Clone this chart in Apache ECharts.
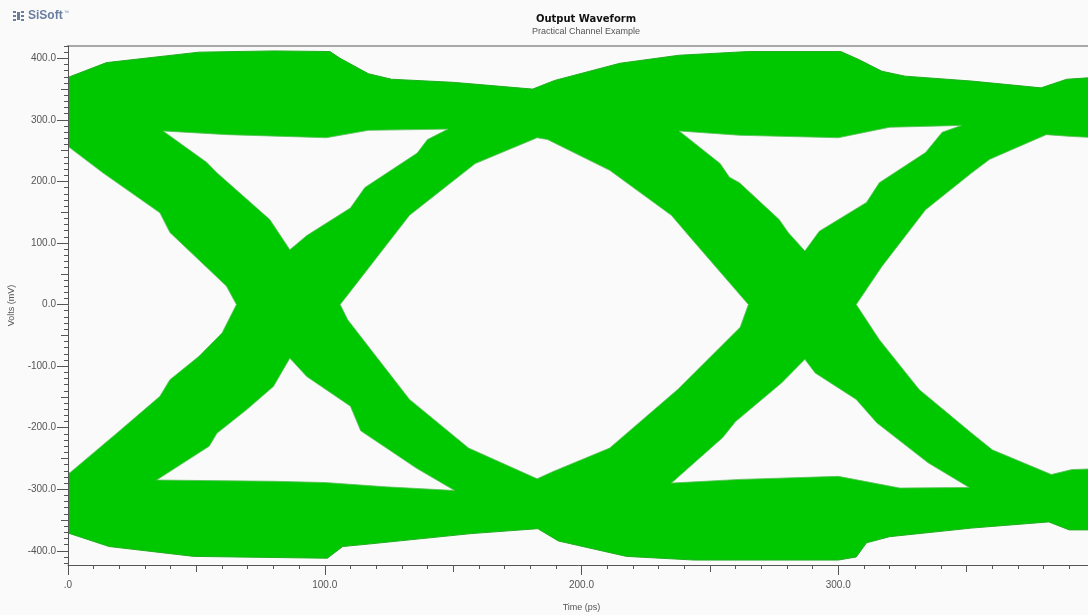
<!DOCTYPE html>
<html>
<head>
<meta charset="utf-8">
<title>Output Waveform</title>
<script src="https://cdn.jsdelivr.net/npm/echarts@6/dist/echarts.min.js"></script>
<style>
  html, body { margin: 0; padding: 0; background: #fafafa; }
  #main { width: 1088px; height: 615px; }
</style>
</head>
<body>
<div id="main"></div>
<script>
/*
 * =================数据 (ps, mV)===================*/
// outer envelope of all traces
const topEdge = [[0, 369], [15, 393], [51, 410], [80, 412], [102, 411], [106, 400], [117, 375], [126, 366], [150, 361], [181, 350], [189.5, 364], [215, 392], [238, 405], [265, 411], [301, 411], [308, 398], [317, 379], [326, 371], [352, 363], [379, 352], [389, 366], [400, 369]];
const bottomEdge = [[0, -371], [16, -393], [49, -409], [101, -412], [107, -393], [117, -389], [157, -372], [183, -364], [191, -384], [217.5, -409], [244, -415], [300, -415], [307, -410], [311, -387], [320, -377], [352, -363], [382, -353], [390, -366], [400, -366]];

// openings (no trace passes through them)
const eyeLeft = [[-5, 257], [0, 257], [13.6, 214], [35.8, 149], [39.7, 117], [61.7, 30], [65.6, 0], [60, -46], [51, -84], [39.7, -122], [35.8, -149], [19, -209], [0.8, -273], [-5, -275]];
const gapTop1 = [[37, 282], [62, 276], [100.6, 271], [117, 283], [148, 285], [140, 268], [136, 246], [115.6, 190], [110, 157], [93, 112], [86.4, 89], [78.6, 138], [58, 214], [54, 231]];
const gapBottom1 = [[86.4, -87], [93, -117], [110, -165], [114, -205], [135.8, -266], [150.6, -302], [123.7, -296], [100, -289], [80, -287], [34.5, -285], [55, -230], [58, -209], [69.5, -171], [80, -133]];
const eyeMid = [[182.7, 271], [186.8, 268], [211, 218], [235, 145], [243, 106], [265, 0], [261.8, -37], [237.7, -137], [211, -233], [189, -271], [182.7, -283], [156, -233], [133, -154], [109, -25], [106, 0], [109, 16], [133, 145], [158.6, 229]];
const gapTop2 = [[238, 282], [261.5, 275], [300, 271], [320, 288], [348, 291], [340.5, 280], [334, 247], [316, 198], [311, 166], [292.6, 119], [287, 87], [280.5, 117], [277, 138], [261.5, 198], [257.6, 207], [254, 229]];
const gapBottom2 = [[287, -89], [291, -111], [307, -154], [315, -192], [335, -257], [351, -297], [324, -298], [300, -279], [261.5, -284], [235, -290], [255, -216], [260, -190], [278, -127]];
const eyeRight = [[381, 276], [391, 273], [405, 270], [405, -266], [391, -268], [383, -276], [360, -236], [352, -209], [331.5, -138], [316, -57], [307, 0], [317, 62], [334, 154], [352, 214], [359, 236]];

// tick labels
const xLabels = [0, 100, 200, 300];
const yLabels = [-400, -300, -200, -100, 0, 100, 200, 300, 400];

/*
 * =================图表===================*/
{
  const bg = "#fafafa";
  const green = "#00c800";
  const axisColor = "#555";
  const font = "Liberation Sans";

  const envelope = [topEdge.concat(bottomEdge.slice().reverse())];
  const openings = [eyeLeft, gapTop1, gapBottom1, eyeMid, gapTop2, gapBottom2, eyeRight];

  // minor / medium ticks
  let xMid = [], xMinor = [], yMid = [], yMinor = [];
  for (let v = 0; v <= 400; v += 10) {
    if (v % 100 === 0) continue;
    (v % 50 === 0 ? xMid : xMinor).push(v);
  }
  for (let v = -420; v <= 420; v += 10) {
    if (v % 100 === 0) continue;
    (v % 50 === 0 ? yMid : yMinor).push(v);
  }

  const polygons = (shapes, style) => (params, api) => ({
    type: "polygon",
    shape: { points: shapes[params.dataIndex].map((p) => api.coord(p)) },
    style: style,
  });

  const tickAxis = (dir, values, len) => ({
    type: "value",
    min: dir === "x" ? 0 : -423,
    max: dir === "x" ? 400 : 420,
    position: dir === "x" ? "bottom" : "left",
    z: 10,
    axisLine: { show: false, onZero: false },
    axisTick: { show: true, length: len, customValues: values, lineStyle: { color: axisColor } },
    axisLabel: { show: false },
    splitLine: { show: false },
  });

  const dom = document.getElementById("main");
  const myChart = echarts.init(dom);
  const option = {
    backgroundColor: bg,
    animation: false,
    title: {
      text: "Output Waveform",
      subtext: "Practical Channel Example",
      left: 581,
      top: 9,
      textAlign: "center",
      itemGap: 3,
      textStyle: { fontSize: 10, fontWeight: "bold", color: "#111", fontFamily: "DejaVu Sans" },
      subtextStyle: { fontSize: 9, color: "#555", fontFamily: font },
    },
    graphic: [
      {
        type: "group",
        left: 13,
        top: 10,
        children: [
          { type: "rect", shape: { x: 0, y: 0, width: 3, height: 2 }, style: { fill: "#6a7ea2" } },
          { type: "rect", shape: { x: 0, y: 4, width: 3, height: 2 }, style: { fill: "#6a7ea2" } },
          { type: "rect", shape: { x: 0, y: 8, width: 3, height: 2 }, style: { fill: "#6a7ea2" } },
          { type: "rect", shape: { x: 4, y: 1, width: 3, height: 8 }, style: { fill: "#6a7ea2" } },
          { type: "rect", shape: { x: 8, y: 0, width: 3, height: 2 }, style: { fill: "#6a7ea2" } },
          { type: "rect", shape: { x: 8, y: 4, width: 3, height: 2 }, style: { fill: "#6a7ea2" } },
          { type: "rect", shape: { x: 8, y: 8, width: 3, height: 2 }, style: { fill: "#6a7ea2" } },
          {
            type: "text",
            x: 15,
            y: -1,
            style: { text: "SiSoft", font: "bold 12px 'Liberation Sans'", fill: "#6a7ea2" },
          },
          {
            type: "text",
            x: 51,
            y: -1,
            style: { text: "™", font: "5px 'Liberation Sans'", fill: "#6a7ea2" },
          },
        ],
      },
    ],
    grid: { left: 68, right: -7, top: 46, bottom: 50, outerBoundsMode: "none" },
    xAxis: [
      {
        type: "value",
        min: 0,
        max: 400,
        position: "bottom",
        z: 10,
        name: "Time (ps)",
        nameLocation: "middle",
        nameGap: 38,
        nameTextStyle: { fontSize: 9, color: "#555", fontFamily: font },
        axisLine: { show: true, onZero: false, lineStyle: { color: axisColor, width: 1 } },
        axisTick: { show: true, length: 10, customValues: xLabels, lineStyle: { color: axisColor } },
        axisLabel: {
          customValues: xLabels,
          margin: 15,
          fontSize: 10,
          color: "#555",
          fontFamily: font,
          formatter: (v) => (v === 0 ? ".0" : v.toFixed(1)),
        },
        splitLine: { show: false },
      },
      tickAxis("x", xMid, 7),
      tickAxis("x", xMinor, 4),
      {
        type: "value",
        min: 0,
        max: 400,
        position: "top",
        axisLine: { show: true, onZero: false, lineStyle: { color: "#a8a8a8", width: 2 } },
        axisTick: { show: false },
        axisLabel: { show: false },
        splitLine: { show: false },
      },
    ],
    yAxis: [
      {
        type: "value",
        min: -423,
        max: 420,
        position: "left",
        z: 10,
        name: "Volts (mV)",
        nameLocation: "middle",
        nameGap: 52,
        nameTextStyle: { fontSize: 9, color: "#555", fontFamily: font },
        axisLine: { show: true, onZero: false, lineStyle: { color: axisColor, width: 1 } },
        axisTick: { show: true, length: 11, customValues: yLabels, lineStyle: { color: axisColor } },
        axisLabel: {
          customValues: yLabels,
          margin: 12,
          fontSize: 10,
          color: "#555",
          fontFamily: font,
          formatter: (v) => v.toFixed(1),
        },
        splitLine: { show: false },
      },
      tickAxis("y", yMid, 7),
      tickAxis("y", yMinor, 4),
    ],
    series: [
      {
        name: "traces",
        type: "custom",
        clip: true,
        xAxisIndex: 0,
        yAxisIndex: 0,
        data: envelope.map((s, i) => [i, 0]),
        renderItem: polygons(envelope, { fill: green, stroke: "#1fae1f", lineWidth: 1 }),
        z: 2,
      },
      {
        name: "openings",
        type: "custom",
        clip: true,
        xAxisIndex: 0,
        yAxisIndex: 0,
        data: openings.map((s, i) => [i, 0]),
        renderItem: polygons(openings, { fill: bg, stroke: "#5cbf5c", lineWidth: 0.8 }),
        z: 3,
      },
    ],
  };
  myChart.setOption(option, true);
}
</script>
</body>
</html>
